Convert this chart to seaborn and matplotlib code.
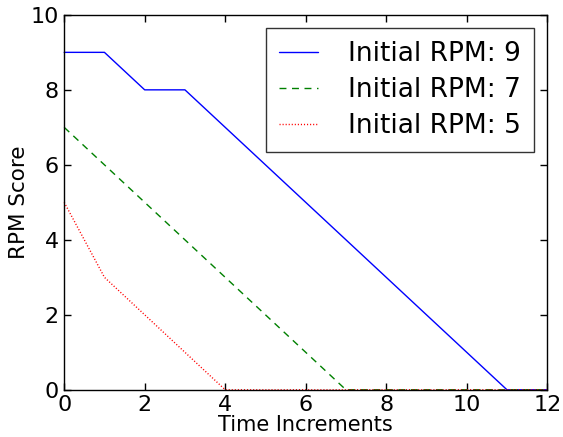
import matplotlib
matplotlib.use("Agg")
import matplotlib.pyplot as plt
import seaborn as sns
import pandas as pd

time_steps = list(range(13))
rpm_9 = [9, 9, 8, 8, 7, 6, 5, 4, 3, 2, 1, 0, 0]
rpm_7 = [7, 6, 5, 4, 3, 2, 1, 0, 0, 0, 0, 0, 0]
rpm_5 = [5, 3, 2, 1, 0, 0, 0, 0, 0, 0, 0, 0, 0]
labels = ["Initial RPM: 9", "Initial RPM: 7", "Initial RPM: 5"]

sns.set_style("ticks")
plt.rcParams['font.family'] = ['DejaVu Sans']
plt.rcParams['text.color'] = 'black'
plt.rcParams['axes.labelcolor'] = 'black'

fig = plt.figure(figsize=(5.63, 4.37), dpi=100)
ax = fig.add_axes([0.114, 0.108, 0.858, 0.858])

styles = [("#0000ff", "-"), ("#008000", (0, (5, 4))), ("#ff0000", (0, (0.8, 1.4)))]
for vals, lab, (c, ls) in zip([rpm_9, rpm_7, rpm_5], labels, styles):
    df = pd.DataFrame({"t": time_steps, "v": vals})
    sns.lineplot(data=df, x="t", y="v", ax=ax, color=c, linestyle=ls,
                 linewidth=1, label=lab, clip_on=False)

ax.set_xlim(0, 12)
ax.set_ylim(0, 10)
ax.set_xticks(range(0, 13, 2))
ax.set_yticks(range(0, 11, 2))
ax.tick_params(direction="in", top=True, right=True, labelsize=16, length=5,
               width=1, colors="black", pad=4)
for s in ax.spines.values():
    s.set_color("black")
    s.set_linewidth(1)
ax.set_xlabel("Time Increments", fontsize=15, labelpad=-0.5, color="black")
ax.set_ylabel("RPM Score", fontsize=15.5, labelpad=1, color="black")

leg = ax.legend(loc="upper right", fontsize=19, frameon=True, fancybox=False,
                handlelength=1.45, borderaxespad=0.5, labelspacing=0.38,
                handletextpad=1.15, borderpad=0.5)
leg.get_frame().set_edgecolor("black")
leg.get_frame().set_linewidth(1)
for t in leg.get_texts():
    t.set_color("black")

fig.savefig("out.png", dpi=100)
